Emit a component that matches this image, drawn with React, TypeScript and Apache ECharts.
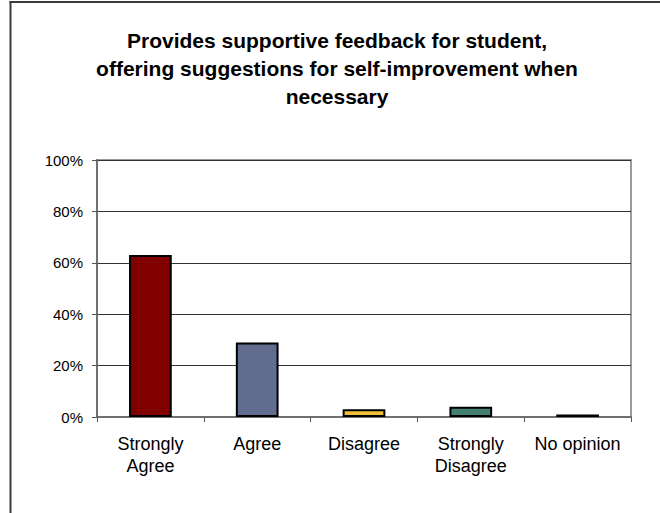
import React, { useEffect, useRef } from "react";
import * as echarts from "echarts";

const categories = ["Strongly\nAgree", "Agree", "Disagree", "Strongly\nDisagree", "No opinion"];
const values = [63, 29, 3, 4, 1];
const barColors = ["#800000", "#626C8E", "#F2C13C", "#44806F", "#000000"];
const titleLines = [
  "Provides supportive feedback for student,",
  "offering suggestions for self-improvement when",
  "necessary",
];
const FONT = "'Liberation Sans', Arial, Helvetica, sans-serif";

export default function App() {
  const ref = useRef<HTMLDivElement>(null);
  useEffect(() => {
    document.body.style.margin = "0";
    const chart = echarts.init(ref.current!, null, { renderer: "svg" });
    chart.setOption({
      animation: false,
      backgroundColor: "#ffffff",
      textStyle: { fontFamily: FONT },
      graphic: [
        {
          type: "line",
          shape: { x1: 9.5, y1: 2, x2: 660, y2: 2 },
          style: { stroke: "#3a3a3a", lineWidth: 2 },
        },
        {
          type: "line",
          shape: { x1: 10.5, y1: 1, x2: 10.5, y2: 513 },
          style: { stroke: "#3a3a3a", lineWidth: 2 },
        },
        {
          type: "text",
          x: 337,
          y: 26,
          style: {
            text: titleLines.join("\n"),
            fontFamily: FONT,
            fontSize: 21,
            fontWeight: "bold",
            lineHeight: 28,
            fill: "#000",
            textAlign: "center",
            textVerticalAlign: "top",
          },
        },
      ],
      grid: {
        left: 97,
        top: 160,
        right: 29,
        bottom: 96,
        show: true,
        borderColor: "#9a9a9a",
        borderWidth: 2,
        backgroundColor: "#ffffff",
      },
      xAxis: {
        type: "category",
        data: categories,
        boundaryGap: true,
        axisLine: { show: true, lineStyle: { color: "#707070", width: 2 } },
        axisTick: { show: true, length: 5, alignWithLabel: false, lineStyle: { color: "#555", width: 1 } },
        axisLabel: {
          interval: 0,
          margin: 16,
          fontSize: 18,
          lineHeight: 22,
          color: "#000",
          fontFamily: FONT,
        },
        splitLine: { show: false },
      },
      yAxis: {
        type: "value",
        min: 0,
        max: 100,
        interval: 20,
        axisLine: { show: true, lineStyle: { color: "#707070", width: 2 } },
        axisTick: { show: true, length: 5, lineStyle: { color: "#555", width: 1 } },
        axisLabel: {
          formatter: "{value}%",
          margin: 14,
          fontSize: 15,
          color: "#000",
          fontFamily: FONT,
        },
        splitLine: { show: true, lineStyle: { color: "#333", width: 1 } },
      },
      series: [
        {
          type: "bar",
          barWidth: "40%",
          data: values.map((v, i) => ({
            value: v,
            itemStyle: { color: barColors[i], borderColor: "#000", borderWidth: 2 },
          })),
        },
      ],
    });
    return () => chart.dispose();
  }, []);
  return (
    <div
      ref={ref}
      style={{ position: "absolute", left: 0, top: 0, width: 660, height: 513 }}
    />
  );
}
